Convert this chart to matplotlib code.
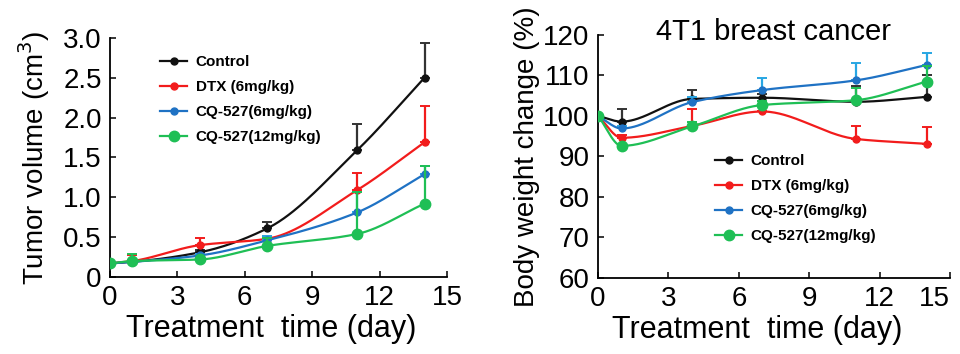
import numpy as np
import matplotlib
matplotlib.use("Agg")
import matplotlib.pyplot as plt

plt.rcParams['font.family'] = ['Liberation Sans', 'DejaVu Sans']

# ---------------- data ----------------
days = [0, 1, 4, 7, 11, 14]
labels = ['Control', 'DTX (6mg/kg)', 'CQ-527(6mg/kg)', 'CQ-527(12mg/kg)']

# tumor volume (cm3), mean and upper error
vol_control = [0.17, 0.19, 0.31, 0.61, 1.59, 2.50]
vol_dtx = [0.17, 0.20, 0.40, 0.48, 1.09, 1.69]
vol_cq6 = [0.17, 0.19, 0.27, 0.46, 0.81, 1.29]
vol_cq12 = [0.17, 0.20, 0.22, 0.39, 0.54, 0.92]
vol_err_control = [0.0, 0.02, 0.03, 0.08, 0.33, 0.44]
vol_err_dtx = [0.0, 0.07, 0.09, 0.03, 0.22, 0.45]
vol_err_cq6 = [0.0, 0.02, 0.02, 0.05, 0.26, 0.10]
vol_err_cq12 = [0.0, 0.09, 0.02, 0.10, 0.53, 0.47]

# body weight change (%)
bw_control = [100, 98.6, 104.2, 104.5, 103.5, 104.7]
bw_dtx = [100, 94.6, 97.5, 101.1, 94.3, 93.1]
bw_cq6 = [100, 96.9, 103.4, 106.4, 108.8, 112.6]
bw_cq12 = [100, 92.6, 97.4, 102.7, 103.9, 108.5]
bw_err_control = [0, 3.1, 2.2, 0.8, 4.0, 5.3]
bw_err_dtx = [0, 0.8, 4.2, 1.5, 3.2, 4.1]
bw_err_cq6 = [0, 0.5, 1.4, 3.1, 4.2, 2.9]
bw_err_cq12 = [0, 0.5, 1.2, 1.0, 2.9, 3.8]

line_colors = ['#111111', '#f21c1c', '#1f72c4', '#1fbf55']
err_colors = ['#333333', '#f21c1c', '#27a6e3', '#1fbf55']
marker_sizes = [5, 5, 5, 7.5]


def pchip(x, y, n=200):
    # monotone cubic curve through the points, only used to draw the smooth line
    x = np.asarray(x, float)
    y = np.asarray(y, float)
    h = np.diff(x)
    d = np.diff(y) / h
    m = np.zeros_like(y)
    for k in range(1, len(x) - 1):
        if d[k - 1] * d[k] > 0:
            w1 = 2 * h[k] + h[k - 1]
            w2 = h[k] + 2 * h[k - 1]
            m[k] = (w1 + w2) / (w1 / d[k - 1] + w2 / d[k])
    m[0] = d[0]
    m[-1] = d[-1]
    xs = np.linspace(x[0], x[-1], n)
    idx = np.clip(np.searchsorted(x, xs) - 1, 0, len(x) - 2)
    t = (xs - x[idx]) / h[idx]
    h00 = 2 * t**3 - 3 * t**2 + 1
    h10 = t**3 - 2 * t**2 + t
    h01 = -2 * t**3 + 3 * t**2
    h11 = t**3 - t**2
    ys = h00 * y[idx] + h10 * h[idx] * m[idx] + h01 * y[idx + 1] + h11 * h[idx] * m[idx + 1]
    return xs, ys


def draw_panel(ax, series, errs, xlab_pos):
    for i, (ys, es) in enumerate(zip(series, errs)):
        xs, sm = pchip(days, ys)
        ax.errorbar(days, ys, yerr=[np.zeros(len(es)), es], fmt='none',
                    ecolor=err_colors[i], elinewidth=1.6, capsize=3.5, capthick=1.4,
                    zorder=2 + i)
        ax.plot(xs, sm, color=line_colors[i], lw=1.6, zorder=3 + i)
        ax.plot(days, ys, 'o', color=line_colors[i], ms=marker_sizes[i],
                zorder=3 + i, label=labels[i])
    for s in ['top', 'right']:
        ax.spines[s].set_visible(False)
    for s in ['left', 'bottom']:
        ax.spines[s].set_linewidth(1.3)
    ax.tick_params(direction='in', length=4, width=1.1, labelsize=20)
    ax.tick_params(axis='x', pad=6)
    ax.tick_params(axis='y', pad=6)
    ax.set_xlim(0, 15)
    ax.set_xticks([0, 3, 6, 9, 12, 15])
    ax.set_xlabel('Treatment  time (day)', fontsize=22)
    ax.xaxis.set_label_coords(xlab_pos, -0.155)


fig = plt.figure(figsize=(9.6, 3.54), dpi=100)

ax1 = fig.add_axes([0.1146, 0.2175, 0.351, 0.6755])
draw_panel(ax1, [vol_control, vol_dtx, vol_cq6, vol_cq12],
           [vol_err_control, vol_err_dtx, vol_err_cq6, vol_err_cq12], 0.478)
ax1.set_ylim(0, 3.0)
ax1.set_yticks([0, 0.5, 1.0, 1.5, 2.0, 2.5, 3.0])
ax1.set_yticklabels(['0', '0.5', '1.0', '1.5', '2.0', '2.5', '3.0'])
ax1.set_ylabel('Tumor volume (cm$^3$)', fontsize=20, labelpad=8)

ax2 = fig.add_axes([0.623, 0.2155, 0.3666, 0.6855])
draw_panel(ax2, [bw_control, bw_dtx, bw_cq6, bw_cq12],
           [bw_err_control, bw_err_dtx, bw_err_cq6, bw_err_cq12], 0.452)
ax2.set_ylim(60, 120)
ax2.set_yticks([60, 70, 80, 90, 100, 110, 120])
ax2.set_ylabel('Body weight change (%)', fontsize=20, labelpad=2)
ax2.get_xticklabels()[-1].set_horizontalalignment('right')
fig.text(773 / 960, 1 - 32 / 354, '4T1 breast cancer', fontsize=21,
         ha='center', va='center')


def make_legend(ax, anchor):
    handles = []
    for i in range(4):
        h, = ax.plot([], [], '-o', color=line_colors[i], lw=1.6, ms=marker_sizes[i])
        handles.append(h)
    ax.legend(handles, labels, loc='upper left', bbox_to_anchor=anchor,
              frameon=False, borderpad=0, borderaxespad=0, handlelength=1.8,
              handletextpad=0.55, labelspacing=0.72, numpoints=1,
              prop={'weight': 'bold', 'size': 11})


make_legend(ax1, (0.148, 0.927))
make_legend(ax2, (0.332, 0.51))

fig.savefig('out.png', dpi=100)
